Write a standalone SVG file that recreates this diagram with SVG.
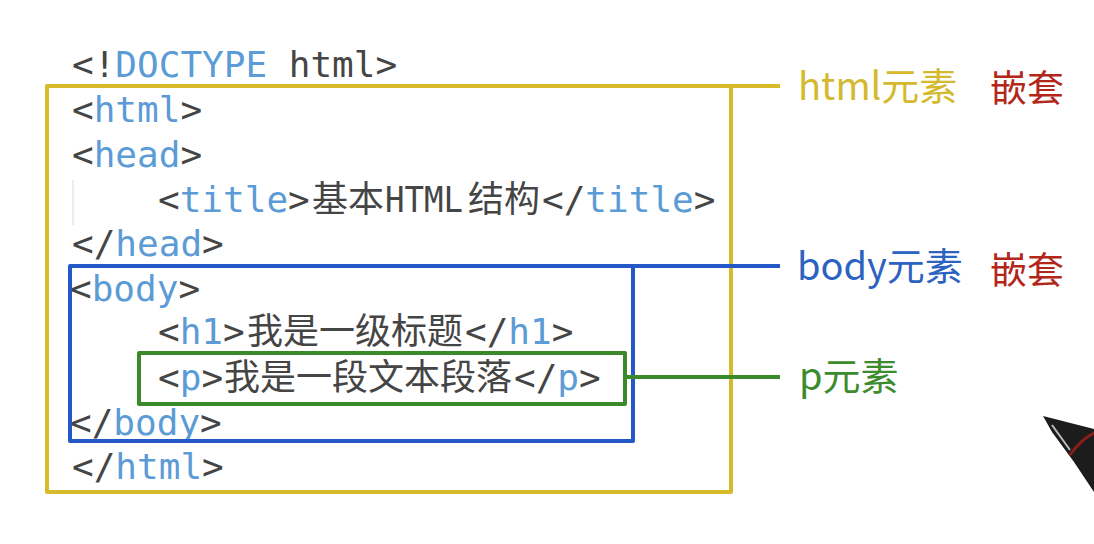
<svg xmlns="http://www.w3.org/2000/svg" width="1094" height="544" viewBox="0 0 1094 544">
<style>
.code{font-family:"DejaVu Sans Mono","Noto Sans CJK SC",monospace;font-size:36px;fill:#454545}
.cjk{font-family:"Noto Sans CJK SC","Noto Sans",sans-serif;font-size:36px;fill:#454545}
.kw{fill:#5b9bd6}
.lbl{font-family:"Noto Sans CJK SC","Noto Sans",sans-serif;font-size:38px}
.nest{font-family:"Noto Sans CJK SC",sans-serif;font-size:37px;fill:#b3261a}
.box{fill:none;stroke-width:4;stroke-linejoin:round}
.y{stroke:#d8bb2d}.b{stroke:#2458c6}.g{stroke:#3b8a2a}
</style>
<rect width="1094" height="544" fill="#ffffff"/>
<line x1="73" y1="180" x2="73" y2="225" stroke="#e6e6e6" stroke-width="1.5"/>
<g id="code">
<text class="code" x="72" y="77">&lt;!<tspan class="kw">DOCTYPE</tspan> html&gt;</text>
<text class="code" x="72" y="122">&lt;<tspan class="kw">html</tspan>&gt;</text>
<text class="code" x="72" y="167">&lt;<tspan class="kw">head</tspan>&gt;</text>
<text class="code" x="158" y="212">&lt;<tspan class="kw">title</tspan>&gt;</text>
<text class="cjk" x="312" y="212">基本</text>
<text class="code" x="385" y="212" textLength="78" lengthAdjust="spacingAndGlyphs">HTML</text>
<text class="cjk" x="468" y="212">结构</text>
<text class="code" x="542" y="212">&lt;/<tspan class="kw">title</tspan>&gt;</text>
<text class="code" x="72" y="256">&lt;/<tspan class="kw">head</tspan>&gt;</text>
<text class="code" x="70" y="301">&lt;<tspan class="kw">body</tspan>&gt;</text>
<text class="code" x="158" y="344">&lt;<tspan class="kw">h1</tspan>&gt;</text>
<text class="cjk" x="247" y="344">我是一级标题</text>
<text class="code" x="465" y="344">&lt;/<tspan class="kw">h1</tspan>&gt;</text>
<text class="code" x="158" y="390">&lt;<tspan class="kw">p</tspan>&gt;</text>
<text class="cjk" x="224" y="390">我是一段文本段落</text>
<text class="code" x="514" y="390">&lt;/<tspan class="kw">p</tspan>&gt;</text>
<text class="code" x="70" y="435">&lt;/<tspan class="kw">body</tspan>&gt;</text>
<text class="code" x="72" y="479">&lt;/<tspan class="kw">html</tspan>&gt;</text>
</g>
<g id="html-element">
<rect class="box y" x="47" y="86" width="684" height="406"/>
<text class="lbl" x="798" y="100" fill="#d4b92e">html元素</text>
<text class="nest" x="990" y="102">嵌套</text>
</g>
<g id="body-element">
<rect class="box b" x="70" y="266" width="563" height="175"/>
<text class="lbl" x="797" y="280" fill="#2c62c0">body元素</text>
<text class="nest" x="990" y="284">嵌套</text>
</g>
<g id="p-element">
<rect class="box g" x="139" y="353" width="486" height="51"/>
<text class="lbl" x="799" y="390" fill="#3d8b2f">p元素</text>
</g>
<g id="connectors">
<line class="box y" x1="731" y1="86" x2="780" y2="86"/>
<line class="box b" x1="633" y1="266" x2="780" y2="266"/>
<line class="box g" x1="625" y1="377" x2="780" y2="377"/>
</g>
<g id="pen">
<polygon points="1043,416 1094,429 1094,492 1074,462 1052,432" fill="#1c1c1c"/>
<path d="M1070,455 Q1080,440 1094,433" fill="none" stroke="#8a1e18" stroke-width="3"/>
<path d="M1052,425 L1070,450" stroke="#bdbdbd" stroke-width="2"/>
</g>
</svg>
